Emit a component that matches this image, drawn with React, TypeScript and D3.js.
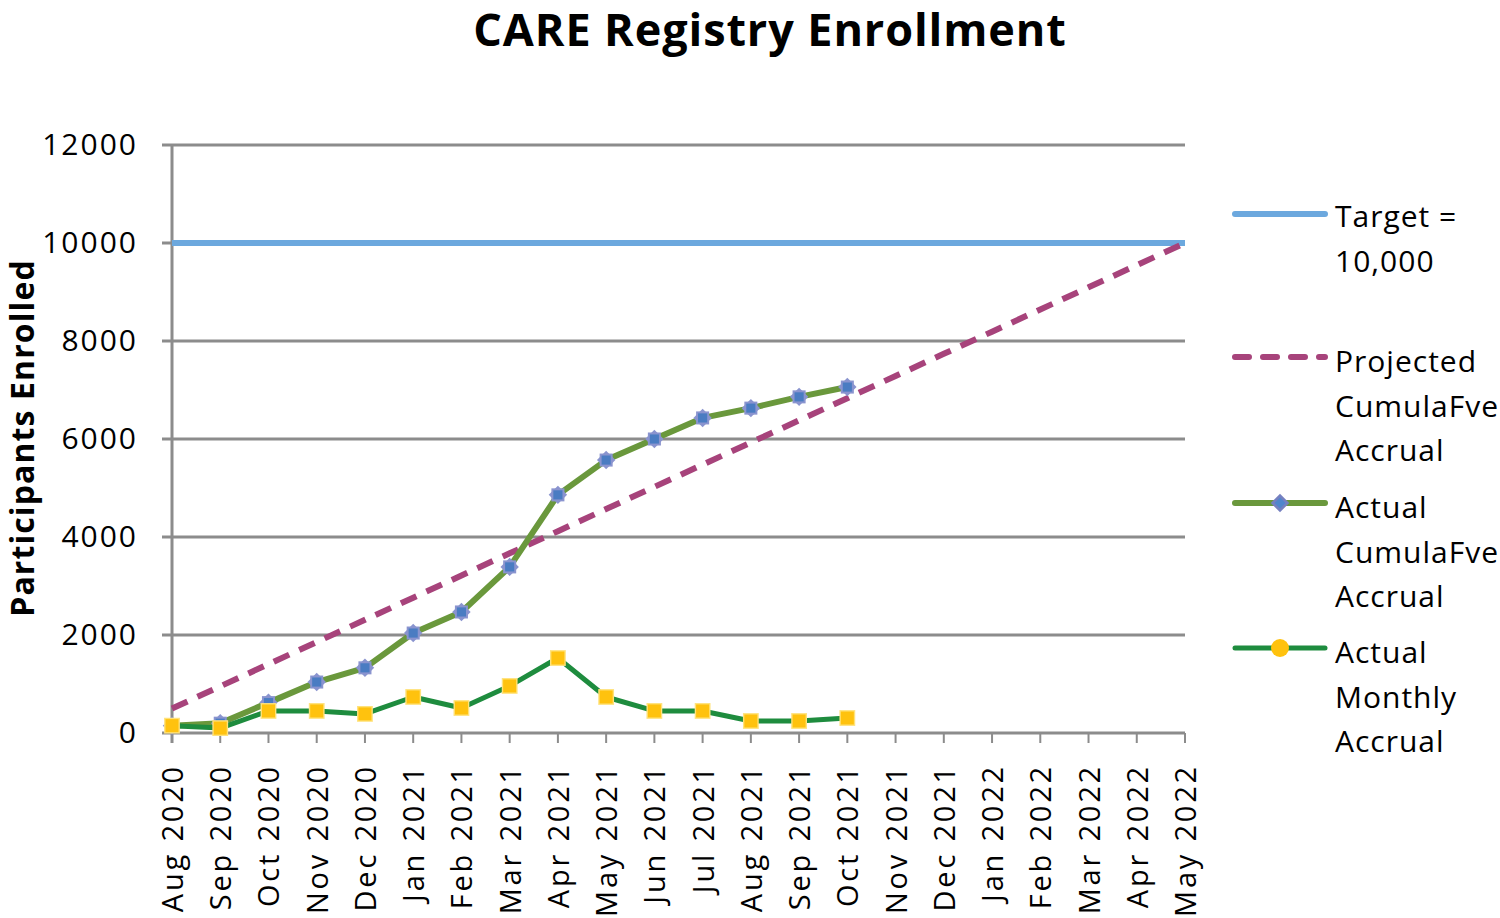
import React from "react";
import * as d3 from "d3";

const months = [
  "Aug 2020", "Sep 2020", "Oct 2020", "Nov 2020", "Dec 2020", "Jan 2021", "Feb 2021",
  "Mar 2021", "Apr 2021", "May 2021", "Jun 2021", "Jul 2021", "Aug 2021", "Sep 2021",
  "Oct 2021", "Nov 2021", "Dec 2021", "Jan 2022", "Feb 2022", "Mar 2022", "Apr 2022", "May 2022",
];
const target = [
  10000, 10000, 10000, 10000, 10000, 10000, 10000, 10000, 10000, 10000, 10000,
  10000, 10000, 10000, 10000, 10000, 10000, 10000, 10000, 10000, 10000, 10000,
];
const projected = [
  500, 952, 1405, 1857, 2310, 2762, 3214, 3667, 4119, 4571, 5024,
  5476, 5929, 6381, 6833, 7286, 7738, 8190, 8643, 9095, 9548, 10000,
];
const actualCumulative = [150, 200, 620, 1040, 1330, 2040, 2470, 3390, 4860, 5570, 6000, 6430, 6630, 6860, 7060];
const actualMonthly = [150, 100, 450, 450, 390, 735, 510, 960, 1530, 735, 450, 450, 245, 245, 306];
const yTicks = [0, 2000, 4000, 6000, 8000, 10000, 12000];

const FONT = "'Open Sans', sans-serif";

export default function App() {
  const left = 172, right = 1185, top = 145, bottom = 733;
  const x = d3.scalePoint<string>().domain(months).range([left, right]);
  const y = d3.scaleLinear().domain([0, 12000]).range([bottom, top]);
  const line = d3
    .line<number>()
    .x((_, i) => x(months[i]) as number)
    .y((d) => y(d));
  const square = d3.symbol().type(d3.symbolSquare).size(170)() as string;
  const sq2 = d3.symbol().type(d3.symbolSquare).size(250)() as string;

  const legendX1 = 1235, legendX2 = 1325, legendTX = 1335;
  const legendText = (lines: string[], y0: number) =>
    lines.map((t, i) => (
      <text key={t + i} x={legendTX} y={y0 + i * 44.5} fontSize={30} fontFamily={FONT} fill="#000" letterSpacing={1}>
        {t}
      </text>
    ));

  return (
    <svg width={1500} height={918} style={{ position: "absolute", left: 0, top: 0 }}>
      <rect width={1500} height={918} fill="#fff" />
      <text x={770} y={46} textAnchor="middle" fontSize={45} fontWeight="bold" fontFamily={FONT} fill="#000" letterSpacing={0.9}>
        CARE Registry Enrollment
      </text>

      {/* gridlines */}
      {yTicks.map((t) => (
        <line key={t} x1={162} x2={right} y1={y(t)} y2={y(t)} stroke="#8c8c8c" strokeWidth={3} />
      ))}
      {/* y axis */}
      <line x1={left} x2={left} y1={top} y2={bottom + 10} stroke="#8c8c8c" strokeWidth={3} />
      {/* x ticks */}
      {months.map((m) => (
        <line key={m} x1={x(m)} x2={x(m)} y1={bottom} y2={bottom + 10} stroke="#8c8c8c" strokeWidth={2} />
      ))}
      {/* y labels */}
      {yTicks.map((t) => (
        <text key={t} x={138} y={y(t) + 10} textAnchor="end" fontSize={30} fontFamily={FONT} fill="#000" letterSpacing={2}>
          {t}
        </text>
      ))}
      {/* x labels */}
      {months.map((m) => (
        <text
          key={m}
          transform={`translate(${(x(m) as number) + 11},${bottom + 31}) rotate(-90)`}
          textAnchor="end"
          fontSize={29}
          fontFamily={FONT}
          fill="#000"
          letterSpacing={2.8}
        >
          {m}
        </text>
      ))}
      <text
        transform={`translate(34,438) rotate(-90)`}
        textAnchor="middle"
        fontSize={32}
        fontWeight="bold"
        fontFamily={FONT}
        fill="#000"
        letterSpacing={1.1}
      >
        Participants Enrolled
      </text>

      {/* series */}
      <path d={line(target) as string} fill="none" stroke="#6CA8DE" strokeWidth={6} />
      <path d={line(projected) as string} fill="none" stroke="#A7437B" strokeWidth={6} strokeDasharray="17 11" />
      <path d={line(actualCumulative) as string} fill="none" stroke="#6A983C" strokeWidth={6} strokeLinejoin="round" />
      {actualCumulative.map((v, i) => (
        <g key={i} transform={`translate(${x(months[i])},${y(v)})`}>
          <path d={square} fill="#8A94CF" transform="rotate(45)" />
          <path d={square} fill="#8A94CF" />
          <path d={square} fill="#4A7CC2" transform="scale(0.7)" />
        </g>
      ))}
      <path d={line(actualMonthly) as string} fill="none" stroke="#1E8C3E" strokeWidth={5} strokeLinejoin="round" />
      {actualMonthly.map((v, i) => (
        <g key={i} transform={`translate(${x(months[i])},${y(v)})`}>
          <path d={sq2} fill="#FFE27A" />
          <path d={square} fill="#FFC20E" />
        </g>
      ))}

      {/* legend */}
      <line x1={legendX1} x2={legendX2} y1={214} y2={214} stroke="#6CA8DE" strokeWidth={6} strokeLinecap="round" />
      {legendText(["Target =", "10,000"], 227)}
      <line x1={legendX1} x2={legendX2} y1={357} y2={357} stroke="#A7437B" strokeWidth={6} strokeLinecap="round" strokeDasharray="14 14" />
      {legendText(["Projected", "CumulaFve", "Accrual"], 372)}
      <line x1={legendX1} x2={legendX2} y1={503} y2={503} stroke="#6A983C" strokeWidth={6} strokeLinecap="round" />
      <g transform={`translate(1280,503)`}>
        <path d={square} fill="#7580C0" transform="rotate(45)" />
        <path d={square} fill="#4F86CC" transform="rotate(45) scale(0.6)" />
      </g>
      {legendText(["Actual", "CumulaFve", "Accrual"], 518)}
      <line x1={legendX1} x2={legendX2} y1={648} y2={648} stroke="#1E8C3E" strokeWidth={5} strokeLinecap="round" />
      <circle cx={1280} cy={648} r={9} fill="#FFC20E" />
      {legendText(["Actual", "Monthly", "Accrual"], 663)}
    </svg>
  );
}
